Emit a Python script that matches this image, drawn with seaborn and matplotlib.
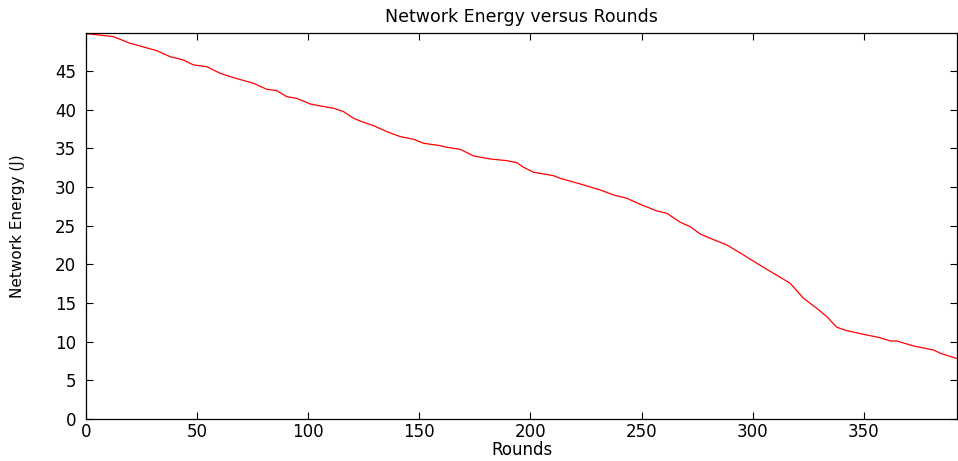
import pandas as pd
import numpy as np
import matplotlib
matplotlib.use("Agg")
import matplotlib.pyplot as plt
import seaborn as sns

# values
rounds = [0, 12.3, 19.8, 31.8, 37.8, 43.8, 48.3, 54.3, 60.3, 66.3, 75.3, 81.3,
          85.8, 90.3, 94.8, 100.9, 105.4, 111.4, 115.9, 120.4, 124.9, 129.4,
          135.4, 141.4, 147.4, 151.9, 159.4, 162.4, 168.4, 174.4, 181.9, 189.4,
          193.9, 196.9, 201.4, 210.4, 213.4, 222.4, 231.4, 237.4, 243.4, 249.4,
          256.9, 261.4, 267.4, 271.9, 276.4, 280.9, 288.4, 295.9, 301.9, 309.4,
          316.9, 322.9, 328.9, 333.4, 337.9, 342.4, 349.9, 357.4, 361.9, 364.9,
          372.4, 381.4, 384.5, 392.6]
energy = [49.83, 49.44, 48.58, 47.63, 46.85, 46.42, 45.78, 45.56, 44.70, 44.14,
          43.41, 42.63, 42.46, 41.68, 41.46, 40.73, 40.48, 40.18, 39.74, 38.88,
          38.36, 37.93, 37.15, 36.51, 36.17, 35.65, 35.34, 35.13, 34.87, 34.01,
          33.62, 33.40, 33.14, 32.55, 31.90, 31.46, 31.12, 30.39, 29.61, 28.97,
          28.54, 27.76, 26.90, 26.60, 25.44, 24.87, 23.92, 23.37, 22.50, 21.21,
          20.13, 18.84, 17.55, 15.61, 14.31, 13.23, 11.86, 11.42, 10.95, 10.51,
          10.09, 10.09, 9.44, 8.92, 8.50, 7.76]
x_ticks = [0, 50, 100, 150, 200, 250, 300, 350]
y_ticks = [0, 5, 10, 15, 20, 25, 30, 35, 40, 45]


def main():
    sns.set_style("ticks")
    plt.rcParams['font.family'] = ['DejaVu Sans']
    plt.rcParams['text.color'] = 'black'
    plt.rcParams['axes.labelcolor'] = 'black'

    df = pd.DataFrame({"Rounds": rounds, "Energy": energy})

    fig = plt.figure(figsize=(9.58, 4.61), dpi=100)
    ax = fig.add_axes([0.0898, 0.0911, 0.9092, 0.8367])
    sns.lineplot(data=df, x="Rounds", y="Energy", color="#ff0000",
                 linewidth=0.9, ax=ax)

    ax.set_xlim(0, 392)
    ax.set_ylim(0, 49.87)
    ax.set_xticks(x_ticks)
    ax.set_yticks(y_ticks)
    ax.tick_params(direction="in", top=True, right=True, length=5,
                   width=0.8, labelsize=12, colors="black")
    ax.tick_params(axis="x", pad=3)
    ax.tick_params(axis="y", pad=7)
    for s in ax.spines.values():
        s.set_visible(True)
        s.set_linewidth(0.9)
        s.set_color("black")

    ax.set_title("Network Energy versus Rounds", fontsize=12.5, pad=8)
    ax.set_xlabel("Rounds", fontsize=12, labelpad=0)
    ax.set_ylabel("Network Energy (J)", fontsize=11, labelpad=22,
                  family=["Liberation Sans Narrow", "DejaVu Sans"])

    fig.savefig("out.png", dpi=100)


if __name__ == "__main__":
    main()
